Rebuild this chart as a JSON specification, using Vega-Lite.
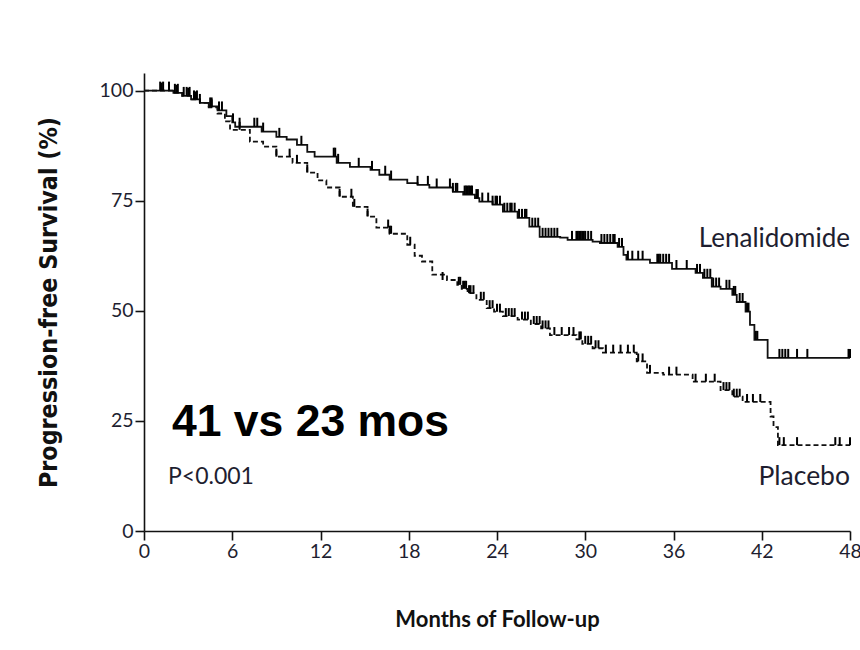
{
  "$schema": "https://vega.github.io/schema/vega-lite/v6.json",
  "width": 706,
  "height": 458,
  "autosize": {"type": "none"},
  "padding": {"left": 144, "top": 73, "right": 10, "bottom": 119},
  "background": "white",
  "config": {
    "view": {"stroke": null},
    "axis": {
      "labelFont": "Lato",
      "titleFont": "Lato",
      "labelFontSize": 19.5,
      "titleFontSize": 22,
      "titleFontWeight": "bold",
      "labelColor": "#1e1e30",
      "titleColor": "#111111",
      "domainColor": "#111111",
      "tickColor": "#111111",
      "domainWidth": 1.6,
      "tickWidth": 1.6,
      "tickSize": 9,
      "grid": false
    }
  },
  "datasets": {
    "len": [
      {"m":0,"p":100},{"m":2.0,"p":99.5},{"m":2.6,"p":98.8},{"m":3.2,"p":98.0},{"m":3.8,"p":97.2},{"m":4.4,"p":96.4},{"m":5.0,"p":95.5},{"m":5.6,"p":94.2},{"m":6.0,"p":92.8},{"m":6.2,"p":91.8},{"m":8.0,"p":90.7},{"m":9.0,"p":89.5},{"m":9.7,"p":88.9},{"m":10.4,"p":87.7},{"m":11.1,"p":86.1},{"m":11.6,"p":85.0},{"m":13.1,"p":83.6},{"m":14.0,"p":82.7},{"m":15.4,"p":82.0},{"m":16.0,"p":80.9},{"m":16.7,"p":79.8},{"m":17.9,"p":79.0},{"m":18.6,"p":78.6},{"m":19.4,"p":78.0},{"m":21.0,"p":77.0},{"m":21.7,"p":76.4},{"m":22.5,"p":75.6},{"m":22.8,"p":74.8},{"m":23.7,"p":74.1},{"m":24.4,"p":72.5},{"m":25.4,"p":71.1},{"m":26.2,"p":69.1},{"m":26.9,"p":66.8},{"m":28.3,"p":66.6},{"m":28.8,"p":66.1},{"m":30.5,"p":65.7},{"m":31.0,"p":65.4},{"m":32.2,"p":64.5},{"m":32.6,"p":62.7},{"m":32.8,"p":61.6},{"m":34.4,"p":60.9},{"m":35.9,"p":59.5},{"m":37.5,"p":58.6},{"m":38.0,"p":57.5},{"m":38.6,"p":55.5},{"m":39.2,"p":55.0},{"m":40.0,"p":53.6},{"m":40.3,"p":52.0},{"m":40.9,"p":49.8},{"m":41.2,"p":46.8},{"m":41.5,"p":43.4},{"m":42.4,"p":39.3},{"m":48,"p":39.3}
    ],
    "pla": [
      {"m":0,"p":100},{"m":2.0,"p":99.5},{"m":2.6,"p":98.8},{"m":3.2,"p":98.0},{"m":3.8,"p":97.2},{"m":4.4,"p":96.2},{"m":5.0,"p":94.8},{"m":5.5,"p":93.0},{"m":5.85,"p":91.1},{"m":7.2,"p":88.4},{"m":8.1,"p":87.3},{"m":9.0,"p":85.0},{"m":10.1,"p":83.6},{"m":11.1,"p":81.4},{"m":11.8,"p":79.6},{"m":12.4,"p":78.0},{"m":13.3,"p":75.9},{"m":14.2,"p":73.6},{"m":15.2,"p":71.4},{"m":15.8,"p":68.9},{"m":16.7,"p":67.5},{"m":17.9,"p":65.0},{"m":18.4,"p":62.5},{"m":18.9,"p":61.2},{"m":19.6,"p":58.2},{"m":20.6,"p":57.0},{"m":21.3,"p":55.9},{"m":21.6,"p":55.0},{"m":22.0,"p":54.0},{"m":22.6,"p":52.5},{"m":23.3,"p":50.6},{"m":23.8,"p":49.8},{"m":24.4,"p":48.8},{"m":25.4,"p":48.0},{"m":26.3,"p":47.0},{"m":27.0,"p":46.0},{"m":27.6,"p":44.5},{"m":29.4,"p":43.5},{"m":29.8,"p":42.5},{"m":30.5,"p":41.5},{"m":31.2,"p":40.5},{"m":33.5,"p":38.5},{"m":34.2,"p":35.9},{"m":35.3,"p":35.5},{"m":37.3,"p":33.9},{"m":39.2,"p":32.0},{"m":40.0,"p":30.5},{"m":40.7,"p":29.3},{"m":42.6,"p":26.0},{"m":42.8,"p":23.6},{"m":43.1,"p":19.5},{"m":48,"p":19.5}
    ],
    "lenc": [
      {"m":1.1,"p":100},{"m":1.3,"p":100},{"m":1.7,"p":100},{"m":2.1,"p":99.5},{"m":2.3,"p":99.5},{"m":2.7,"p":98.8},{"m":2.9,"p":98.8},{"m":3.1,"p":98.8},{"m":3.4,"p":98.0},{"m":3.6,"p":98.0},{"m":3.8,"p":97.2},{"m":4.5,"p":96.4},{"m":4.6,"p":96.4},{"m":5.1,"p":95.5},{"m":5.3,"p":95.5},{"m":6.05,"p":92.8},{"m":6.5,"p":91.8},{"m":7.5,"p":91.8},{"m":7.7,"p":91.8},{"m":8.1,"p":90.7},{"m":9.2,"p":89.5},{"m":10.7,"p":87.7},{"m":12.9,"p":85.0},{"m":13.0,"p":85.0},{"m":13.2,"p":83.6},{"m":14.6,"p":82.7},{"m":15.5,"p":82.0},{"m":16.4,"p":80.9},{"m":16.8,"p":79.8},{"m":18.6,"p":78.6},{"m":19.3,"p":78.6},{"m":19.9,"p":78.0},{"m":20.8,"p":78.0},{"m":21.0,"p":77.0},{"m":21.2,"p":77.0},{"m":21.3,"p":77.0},{"m":21.8,"p":76.4},{"m":21.9,"p":76.4},{"m":22.0,"p":76.4},{"m":22.1,"p":76.4},{"m":22.2,"p":76.4},{"m":22.3,"p":76.4},{"m":22.6,"p":75.6},{"m":22.7,"p":75.6},{"m":23.0,"p":74.8},{"m":23.4,"p":74.8},{"m":23.7,"p":74.1},{"m":23.9,"p":74.1},{"m":24.0,"p":74.1},{"m":24.2,"p":74.1},{"m":24.5,"p":72.5},{"m":24.7,"p":72.5},{"m":24.9,"p":72.5},{"m":25.0,"p":72.5},{"m":25.2,"p":72.5},{"m":25.5,"p":71.1},{"m":25.7,"p":71.1},{"m":25.9,"p":71.1},{"m":26.0,"p":71.1},{"m":26.4,"p":69.1},{"m":26.6,"p":69.1},{"m":26.8,"p":69.1},{"m":27.1,"p":66.8},{"m":27.3,"p":66.8},{"m":27.5,"p":66.8},{"m":27.7,"p":66.8},{"m":27.9,"p":66.8},{"m":28.1,"p":66.8},{"m":29.1,"p":66.1},{"m":29.4,"p":66.1},{"m":29.5,"p":66.1},{"m":29.6,"p":66.1},{"m":29.7,"p":66.1},{"m":29.8,"p":66.1},{"m":29.9,"p":66.1},{"m":30.0,"p":66.1},{"m":30.2,"p":66.1},{"m":30.4,"p":66.1},{"m":31.1,"p":65.4},{"m":31.3,"p":65.4},{"m":31.5,"p":65.4},{"m":31.7,"p":65.4},{"m":31.9,"p":65.4},{"m":32.0,"p":65.4},{"m":32.3,"p":64.5},{"m":32.5,"p":64.5},{"m":32.9,"p":61.6},{"m":33.2,"p":61.6},{"m":33.6,"p":61.6},{"m":33.9,"p":61.6},{"m":34.9,"p":60.9},{"m":35.0,"p":60.9},{"m":35.1,"p":60.9},{"m":35.3,"p":60.9},{"m":35.5,"p":60.9},{"m":35.7,"p":60.9},{"m":36.2,"p":59.5},{"m":36.9,"p":59.5},{"m":37.6,"p":58.6},{"m":37.8,"p":58.6},{"m":38.1,"p":57.5},{"m":38.3,"p":57.5},{"m":38.5,"p":57.5},{"m":38.7,"p":55.5},{"m":38.9,"p":55.5},{"m":39.1,"p":55.5},{"m":39.6,"p":55.0},{"m":39.8,"p":55.0},{"m":40.1,"p":53.6},{"m":40.2,"p":53.6},{"m":40.5,"p":52.0},{"m":40.7,"p":52.0},{"m":41.0,"p":49.8},{"m":41.1,"p":49.8},{"m":41.6,"p":43.4},{"m":41.7,"p":43.4},{"m":43.2,"p":39.3},{"m":43.4,"p":39.3},{"m":43.6,"p":39.3},{"m":43.8,"p":39.3},{"m":44.4,"p":39.3},{"m":45.1,"p":39.3},{"m":47.9,"p":39.3},{"m":48.0,"p":39.3}
    ],
    "plac": [
      {"m":1.2,"p":100},{"m":2.2,"p":99.5},{"m":3.0,"p":98.8},{"m":3.5,"p":98.0},{"m":4.6,"p":96.2},{"m":6.5,"p":91.1},{"m":9.0,"p":85.0},{"m":9.9,"p":85.0},{"m":10.4,"p":83.6},{"m":11.1,"p":81.4},{"m":13.3,"p":75.9},{"m":14.1,"p":75.9},{"m":14.3,"p":73.6},{"m":15.2,"p":71.4},{"m":16.6,"p":68.9},{"m":16.7,"p":67.5},{"m":16.8,"p":67.5},{"m":18.1,"p":65.0},{"m":20.3,"p":57.0},{"m":21.4,"p":55.9},{"m":21.5,"p":55.9},{"m":21.7,"p":55.0},{"m":21.8,"p":55.0},{"m":21.9,"p":55.0},{"m":22.1,"p":54.0},{"m":22.2,"p":54.0},{"m":22.4,"p":54.0},{"m":22.9,"p":52.5},{"m":23.1,"p":52.5},{"m":23.5,"p":50.6},{"m":23.7,"p":50.6},{"m":24.0,"p":49.8},{"m":24.2,"p":49.8},{"m":24.6,"p":48.8},{"m":24.8,"p":48.8},{"m":25.0,"p":48.8},{"m":25.2,"p":48.8},{"m":25.7,"p":48.0},{"m":25.9,"p":48.0},{"m":26.1,"p":48.0},{"m":26.5,"p":47.0},{"m":26.7,"p":47.0},{"m":26.9,"p":47.0},{"m":27.1,"p":46.0},{"m":27.3,"p":46.0},{"m":27.5,"p":46.0},{"m":27.9,"p":44.5},{"m":28.4,"p":44.5},{"m":28.9,"p":44.5},{"m":29.2,"p":44.5},{"m":29.6,"p":43.5},{"m":29.7,"p":43.5},{"m":30.0,"p":42.5},{"m":30.2,"p":42.5},{"m":30.4,"p":42.5},{"m":30.7,"p":41.5},{"m":30.9,"p":41.5},{"m":31.4,"p":40.5},{"m":31.9,"p":40.5},{"m":32.4,"p":40.5},{"m":32.9,"p":40.5},{"m":33.3,"p":40.5},{"m":33.6,"p":38.5},{"m":33.9,"p":38.5},{"m":34.4,"p":35.9},{"m":35.7,"p":35.5},{"m":36.2,"p":35.5},{"m":37.5,"p":33.9},{"m":38.2,"p":33.9},{"m":38.8,"p":33.9},{"m":39.4,"p":32.0},{"m":39.6,"p":32.0},{"m":39.8,"p":32.0},{"m":40.1,"p":30.5},{"m":40.3,"p":30.5},{"m":40.5,"p":30.5},{"m":41.0,"p":29.3},{"m":41.4,"p":29.3},{"m":41.9,"p":29.3},{"m":43.2,"p":19.5},{"m":43.5,"p":19.5},{"m":44.4,"p":19.5},{"m":47.0,"p":19.5},{"m":47.3,"p":19.5},{"m":48.0,"p":19.5}
    ]
  },
  "layer": [
    {
      "data": {"name": "len"},
      "mark": {"type": "line", "interpolate": "step-after", "color": "#111111", "strokeWidth": 1.8},
      "encoding": {
        "x": {
          "field": "m", "type": "quantitative",
          "scale": {"domain": [0, 48], "nice": false},
          "axis": {"values": [0,6,12,18,24,30,36,42,48], "title": "Months of Follow-up", "labelPadding": 2, "titlePadding": 49, "labelFlush": false}
        },
        "y": {
          "field": "p", "type": "quantitative",
          "scale": {"domain": [0, 104], "nice": false},
          "axis": {"values": [0,25,50,75,100], "title": "Progression-free Survival (%)", "titleFont": "DejaVu Sans Condensed", "titleFontSize": 24.8, "labelPadding": 2, "titlePadding": 38}
        }
      }
    },
    {
      "data": {"name": "pla"},
      "mark": {"type": "line", "interpolate": "step-after", "color": "#111111", "strokeWidth": 1.8, "strokeDash": [5, 3]},
      "encoding": {"x": {"field": "m", "type": "quantitative"}, "y": {"field": "p", "type": "quantitative"}}
    },
    {
      "data": {"name": "lenc"},
      "mark": {"type": "tick", "orient": "vertical", "color": "#000000", "opacity": 1, "thickness": 2, "size": 9, "yOffset": -4.5},
      "encoding": {"x": {"field": "m", "type": "quantitative"}, "y": {"field": "p", "type": "quantitative"}}
    },
    {
      "data": {"name": "plac"},
      "mark": {"type": "tick", "orient": "vertical", "color": "#000000", "opacity": 1, "thickness": 2, "size": 8, "yOffset": -4},
      "encoding": {"x": {"field": "m", "type": "quantitative"}, "y": {"field": "p", "type": "quantitative"}}
    },
    {
      "data": {"values": [{"label": "41 vs 23 mos"}]},
      "mark": {"type": "text", "font": "Liberation Sans", "fontWeight": "bold", "fontSize": 44.5, "align": "left", "baseline": "alphabetic", "color": "#000000"},
      "encoding": {"text": {"field": "label"}, "x": {"datum": 1.9, "type": "quantitative"}, "y": {"datum": 21.6, "type": "quantitative"}}
    },
    {
      "data": {"values": [{"label": "P<0.001"}]},
      "mark": {"type": "text", "font": "Lato", "fontSize": 23, "align": "left", "baseline": "alphabetic", "color": "#1e1e30"},
      "encoding": {"text": {"field": "label"}, "x": {"datum": 1.63, "type": "quantitative"}, "y": {"datum": 10.7, "type": "quantitative"}}
    },
    {
      "data": {"values": [{"label": "Lenalidomide"}]},
      "mark": {"type": "text", "font": "Lato", "fontSize": 26, "align": "right", "baseline": "alphabetic", "color": "#1e1e30"},
      "encoding": {"text": {"field": "label"}, "x": {"datum": 48, "type": "quantitative"}, "y": {"datum": 64.5, "type": "quantitative"}}
    },
    {
      "data": {"values": [{"label": "Placebo"}]},
      "mark": {"type": "text", "font": "Lato", "fontSize": 26.5, "align": "right", "baseline": "alphabetic", "color": "#1e1e30"},
      "encoding": {"text": {"field": "label"}, "x": {"datum": 48, "type": "quantitative"}, "y": {"datum": 10.5, "type": "quantitative"}}
    }
  ]
}
